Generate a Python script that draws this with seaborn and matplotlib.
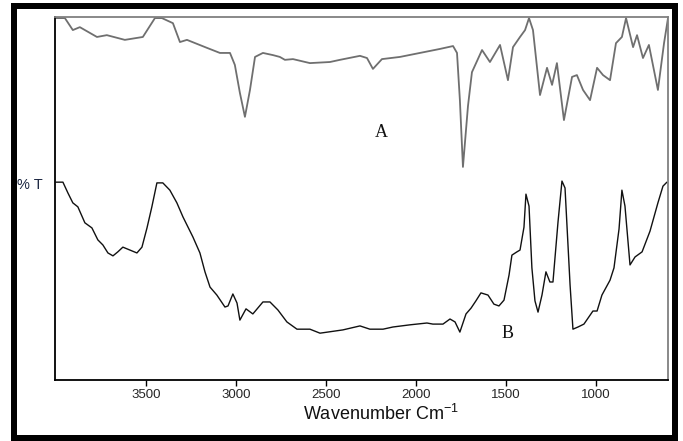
import matplotlib
matplotlib.use("Agg")
import matplotlib.pyplot as plt
import matplotlib.patches as mpatches
import numpy as np
import pandas as pd
import seaborn as sns

# ---- data (wavenumber in cm-1, %T on a 0-100 scale) ----
wn_a = [4000, 3950, 3906, 3867, 3772, 3717, 3617, 3517, 3450, 3411, 3350, 3311, 3272,
        3161, 3089, 3033, 3006, 2978, 2950, 2922, 2894, 2850, 2794, 2756, 2728, 2683,
        2589, 2478, 2422, 2311, 2272, 2239, 2189, 2089, 1978, 1867, 1794, 1772, 1756,
        1739, 1711, 1689, 1633, 1589, 1533, 1489, 1461, 1422, 1394, 1372, 1350, 1311,
        1272, 1244, 1217, 1178, 1133, 1106, 1072, 1033, 994, 961, 922, 889, 856, 833,
        794, 772, 739, 706, 656, 622, 600]
t_a = [99.7, 99.7, 96.4, 97.2, 94.5, 95.0, 93.7, 94.5, 99.7, 99.7, 98.3, 93.1, 93.7,
       91.5, 90.1, 90.1, 86.8, 79.1, 72.5, 79.9, 89.0, 90.1, 89.5, 89.0, 88.2, 88.4,
       87.3, 87.6, 88.2, 89.3, 88.7, 85.7, 88.4, 89.0, 90.1, 91.2, 92.0, 90.1, 77.1,
       58.7, 75.5, 84.8, 90.9, 87.6, 92.3, 82.6, 91.7, 94.5, 96.4, 99.7, 96.4, 78.5,
       86.0, 81.3, 87.3, 71.6, 83.5, 84.0, 79.9, 77.1, 86.0, 84.0, 82.6, 92.8, 94.5, 99.7,
       91.7, 95.0, 88.7, 92.3, 79.9, 92.8, 99.7]

wn_b = [4000, 3961, 3933, 3906, 3878, 3839, 3800, 3767, 3739, 3711, 3683, 3656, 3628,
        3589, 3550, 3522, 3494, 3467, 3439, 3406, 3367, 3328, 3294, 3239, 3200, 3172,
        3144, 3106, 3061, 3044, 3017, 2994, 2978, 2944, 2906, 2850, 2811, 2767, 2717,
        2661, 2589, 2533, 2406, 2311, 2256, 2183, 2128, 2033, 1939, 1906, 1850, 1811,
        1783, 1756, 1722, 1694, 1667, 1639, 1600, 1567, 1539, 1511, 1483, 1467, 1439,
        1422, 1400, 1389, 1372, 1356, 1339, 1322, 1300, 1278, 1256, 1239, 1211, 1189,
        1172, 1144, 1128, 1100, 1067, 1017, 994, 967, 922, 900, 872, 856, 839, 811, 783,
        744, 700, 656, 628, 606]
t_b = [54.5, 54.5, 51.5, 48.8, 47.7, 43.3, 41.9, 38.6, 37.2, 35.0, 34.2, 35.3, 36.6,
       35.8, 35.0, 36.6, 41.9, 47.7, 54.3, 54.3, 52.3, 48.8, 44.9, 39.4, 35.0, 29.8,
       25.6, 23.4, 20.1, 20.4, 23.7, 21.2, 16.5, 19.6, 18.2, 21.5, 21.5, 19.3, 16.0,
       14.0, 14.0, 12.9, 13.8, 14.9, 14.0, 14.0, 14.6, 15.2, 15.7, 15.4, 15.4, 16.8,
       16.0, 13.2, 18.2, 19.8, 21.8, 24.0, 23.4, 20.9, 20.4, 22.0, 28.9, 34.4, 35.3,
       35.8, 42.1, 51.2, 47.9, 30.9, 21.8, 18.7, 23.4, 29.8, 27.0, 27.0, 43.5, 54.8,
       52.9, 26.2, 14.0, 14.6, 15.4, 19.0, 19.0, 23.4, 27.5, 30.9, 41.6, 52.3, 47.9,
       31.7, 33.9, 35.3, 41.0, 48.8, 53.4, 54.5]

tick_values = [3500, 3000, 2500, 2000, 1500, 1000]
tick_labels = ["3500", "3000", "2500", "2000", "1500", "1000"]
series_labels = ["A", "B"]

# ---- styling ----
sns.set_style("white")
plt.rcParams["font.family"] = ["Liberation Sans", "DejaVu Sans"]
plt.rcParams["mathtext.default"] = "regular"

W, H = 683, 441
fig = plt.figure(figsize=(W / 100, H / 100), dpi=100)
ax = fig.add_axes([55 / W, 1 - 380 / H, 613 / W, 363 / H])

df_a = pd.DataFrame({"wn": wn_a, "T": t_a})
df_b = pd.DataFrame({"wn": wn_b, "T": t_b})
sns.lineplot(data=df_a, x="wn", y="T", ax=ax, sort=False, color="#6f6f6f",
             linewidth=1.3, estimator=None)
sns.lineplot(data=df_b, x="wn", y="T", ax=ax, sort=False, color="#111111",
             linewidth=1.0, estimator=None)

ax.set_xlim(4005, 600)
ax.set_ylim(0, 100)
ax.set_xticks(tick_values)
ax.set_xticklabels(tick_labels, fontsize=9.5)
ax.set_yticks([])
ax.set_xlabel("")
ax.set_ylabel("")
ax.tick_params(axis="x", direction="out", length=4, width=1, color="black",
               pad=2.5, bottom=True)

for side in ["left", "bottom"]:
    ax.spines[side].set_color("black")
    ax.spines[side].set_linewidth(1.3)
for side in ["top", "right"]:
    ax.spines[side].set_color("#808080")
    ax.spines[side].set_linewidth(1.3)

# series labels
ax.text(2190, 68.3, series_labels[0], fontsize=13, family=["Liberation Serif", "DejaVu Serif"],
        ha="center", va="center", color="#111111")
ax.text(1490, 12.7, series_labels[1], fontsize=13, family=["Liberation Serif", "DejaVu Serif"],
        ha="center", va="center", color="#111111")

# axis labels
fig.text(381 / W, 1 - 414 / H, "Wavenumber Cm$^{-1}$", fontsize=13,
         ha="center", va="center", color="#111111")
fig.text(17 / W, 1 - 185 / H, "% T", fontsize=10.5, ha="left", va="center",
         color="#1a2540")

# outer black frame
frame = mpatches.Rectangle((14 / W, 1 - 438 / H), (675 - 14) / W, (438 - 6) / H,
                           transform=fig.transFigure, fill=False,
                           edgecolor="black", linewidth=6 * 72 / 100)
fig.patches.append(frame)

fig.savefig("out.png", dpi=100)
